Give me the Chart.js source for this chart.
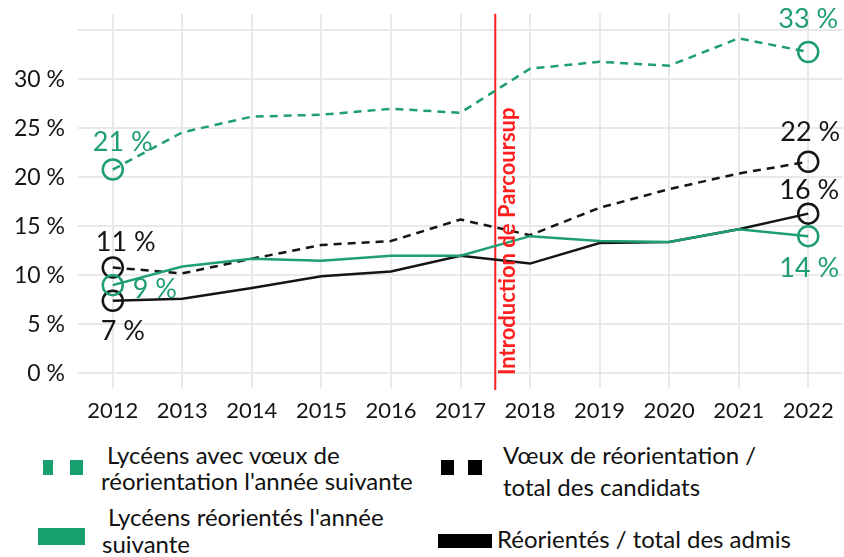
<!DOCTYPE html>
<html lang="fr">
<head>
<meta charset="utf-8">
<title>Réorientation</title>
<script src="https://cdn.jsdelivr.net/npm/chart.js@4.4.0/dist/chart.umd.min.js"></script>
<style>
  body { margin: 0; background: #fff; font-family: Lato, "Open Sans", sans-serif; }
  #wrap { position: relative; width: 844px; height: 557px; overflow: hidden; }
  #chartBox { position: absolute; left: 0; top: -13px; width: 844px; height: 443px; }
  .sym { position: absolute; }
  .txt { position: absolute; font-size: 24px; color: #111; line-height: 24px; white-space: nowrap; }
</style>
</head>
<body>
<div id="wrap">
  <div id="chartBox"><canvas id="myChart"></canvas></div>

  <!-- legend -->
  <div class="sym" style="left:43px;top:460px;width:10px;height:15px;background:#17a06e"></div>
  <div class="sym" style="left:70px;top:460px;width:13px;height:15px;background:#17a06e"></div>
  <div class="txt" style="left:107px;top:443px">Lycéens avec vœux de</div>
  <div class="txt" style="left:101px;top:469px">réorientation l'année suivante</div>

  <div class="sym" style="left:441px;top:460px;width:13px;height:15px;background:#000"></div>
  <div class="sym" style="left:468px;top:460px;width:14px;height:15px;background:#000"></div>
  <div class="txt" style="left:503px;top:443px">Vœux de réorientation /</div>
  <div class="txt" style="left:503px;top:475px">total des candidats</div>

  <div class="sym" style="left:38px;top:528px;width:47px;height:17px;background:#17a06e"></div>
  <div class="txt" style="left:108px;top:505px">Lycéens réorientés l'année</div>
  <div class="txt" style="left:102px;top:532px">suivante</div>

  <div class="sym" style="left:438px;top:534px;width:54px;height:14px;background:#000"></div>
  <div class="txt" style="left:497px;top:527px">Réorientés / total des admis</div>
</div>

<script>
    "use strict";

    // data (percent)
    var years = [2012, 2013, 2014, 2015, 2016, 2017, 2018, 2019, 2020, 2021, 2022];
    var voeuxLyceens = [20.8, 24.6, 26.2, 26.4, 27.0, 26.6, 31.1, 31.8, 31.4, 34.2, 32.8];
    var reorientesLyceens = [9.0, 10.9, 11.7, 11.5, 12.0, 12.0, 14.0, 13.5, 13.4, 14.7, 14.0];
    var voeuxCandidats = [10.8, 10.2, 11.7, 13.1, 13.5, 15.7, 14.1, 16.9, 18.8, 20.4, 21.6];
    var reorientesAdmis = [7.4, 7.6, 8.7, 9.9, 10.4, 12.0, 11.2, 13.3, 13.4, 14.7, 16.3];
    var yTicks = [0, 5, 10, 15, 20, 25, 30];
    var parcoursupYear = 2017.5;
    var parcoursupText = 'Introduction de Parcoursup';

    var GREEN = '#1f9e6f';
    var BLACK = '#151515';
    var RED = '#ff1f1f';

    function toPoints(values) {
        return values.map(function (v, i) { return { x: years[i], y: v }; });
    }

    // open circle only on first and last point
    function endRadius(ctx) {
        var last = ctx.dataset.data.length - 1;
        return (ctx.dataIndex === 0 || ctx.dataIndex === last) ? 10 : 0;
    }

    function pct(v) { return Math.round(v) + ' %'; }

    // labels at both ends: [dataset index, point index, dx, dy]
    var endLabels = [
        [0, 0, 10, -27], [0, 10, 0, -33],
        [1, 0, 42, 4], [1, 10, 1, 32],
        [2, 0, 13, -25], [2, 10, 2, -29],
        [3, 0, 10, 30], [3, 10, 1, -23]
    ];

    var extrasPlugin = {
        id: 'extras',
        afterDatasetsDraw: function (chart) {
            var c = chart.ctx;
            c.save();
            c.font = '27px Lato';
            c.textAlign = 'center';
            c.textBaseline = 'middle';
            endLabels.forEach(function (l) {
                var ds = chart.data.datasets[l[0]];
                var pt = chart.getDatasetMeta(l[0]).data[l[1]];
                c.fillStyle = ds.borderColor;
                c.fillText(pct(ds.data[l[1]].y), pt.x + l[2], pt.y + l[3]);
            });
            // rotated note next to the red line, starting just above the x labels
            var x = chart.scales.x.getPixelForValue(parcoursupYear) + 13;
            c.translate(x, chart.chartArea.bottom - 13);
            c.rotate(-Math.PI / 2);
            c.textAlign = 'left';
            c.font = 'bold 22px Lato';
            c.fillStyle = RED;
            c.fillText(parcoursupText, 0, 0);
            c.restore();
        }
    };

    var ctx = document.getElementById('myChart').getContext('2d');
    var chart = new Chart(ctx, {
        type: 'line',
        data: {
            datasets: [{
                label: "Lycéens avec vœux de réorientation l'année suivante",
                data: toPoints(voeuxLyceens),
                borderColor: GREEN,
                borderDash: [8, 6],
                borderWidth: 2.5
            },
            {
                label: "Lycéens réorientés l'année suivante",
                data: toPoints(reorientesLyceens),
                borderColor: GREEN,
                borderWidth: 2.5
            },
            {
                label: 'Vœux de réorientation / total des candidats',
                data: toPoints(voeuxCandidats),
                borderColor: BLACK,
                borderDash: [8, 6],
                borderWidth: 2.5
            },
            {
                label: 'Réorientés / total des admis',
                data: toPoints(reorientesAdmis),
                borderColor: BLACK,
                borderWidth: 2.5
            },
            {
                label: 'Parcoursup',
                data: [{ x: parcoursupYear, y: -1.7 }, { x: parcoursupYear, y: 36.7 }],
                borderColor: RED,
                borderWidth: 2,
                pointRadius: 0
            }]
        },
        options: {
            responsive: true,
            maintainAspectRatio: false,
            animation: false,
            clip: false,
            layout: { autoPadding: false, padding: { top: 2, right: 1, left: 0, bottom: 0 } },
            elements: {
                line: { tension: 0, fill: false },
                point: {
                    radius: endRadius,
                    borderWidth: 2.5,
                    backgroundColor: 'rgba(0,0,0,0)',
                    borderColor: function (c) { return c.dataset.borderColor; },
                    hoverRadius: endRadius
                }
            },
            plugins: {
                legend: { display: false },
                tooltip: { enabled: false }
            },
            scales: {
                x: {
                    type: 'linear',
                    min: 2011.5,
                    max: 2022.5,
                    afterBuildTicks: function (s) {
                        s.ticks = years.map(function (y) { return { value: y }; });
                    },
                    afterFit: function (s) { s.height = 42; },
                    grid: { color: '#e9e9e9', lineWidth: 2, drawTicks: false },
                    border: { display: false },
                    ticks: {
                        padding: 10,
                        color: BLACK,
                        font: { family: 'Lato', size: 22 },
                        callback: function (v) { return String(v); }
                    }
                },
                y: {
                    min: -1.5,
                    max: 36.7,
                    afterBuildTicks: function (s) {
                        var t = [];
                        for (var v = 0; v <= 35; v += 2.5) t.push({ value: v });
                        s.ticks = t;
                    },
                    afterFit: function (s) { s.width = 78; },
                    grid: { color: '#e9e9e9', lineWidth: 2, drawTicks: false },
                    border: { display: false },
                    ticks: {
                        padding: 13,
                        color: BLACK,
                        font: { family: 'Lato', size: 23 },
                        callback: function (v) {
                            return yTicks.indexOf(v) >= 0 ? v + ' %' : '';
                        }
                    }
                }
            }
        },
        plugins: [extrasPlugin]
    });
</script>
</body>
</html>
